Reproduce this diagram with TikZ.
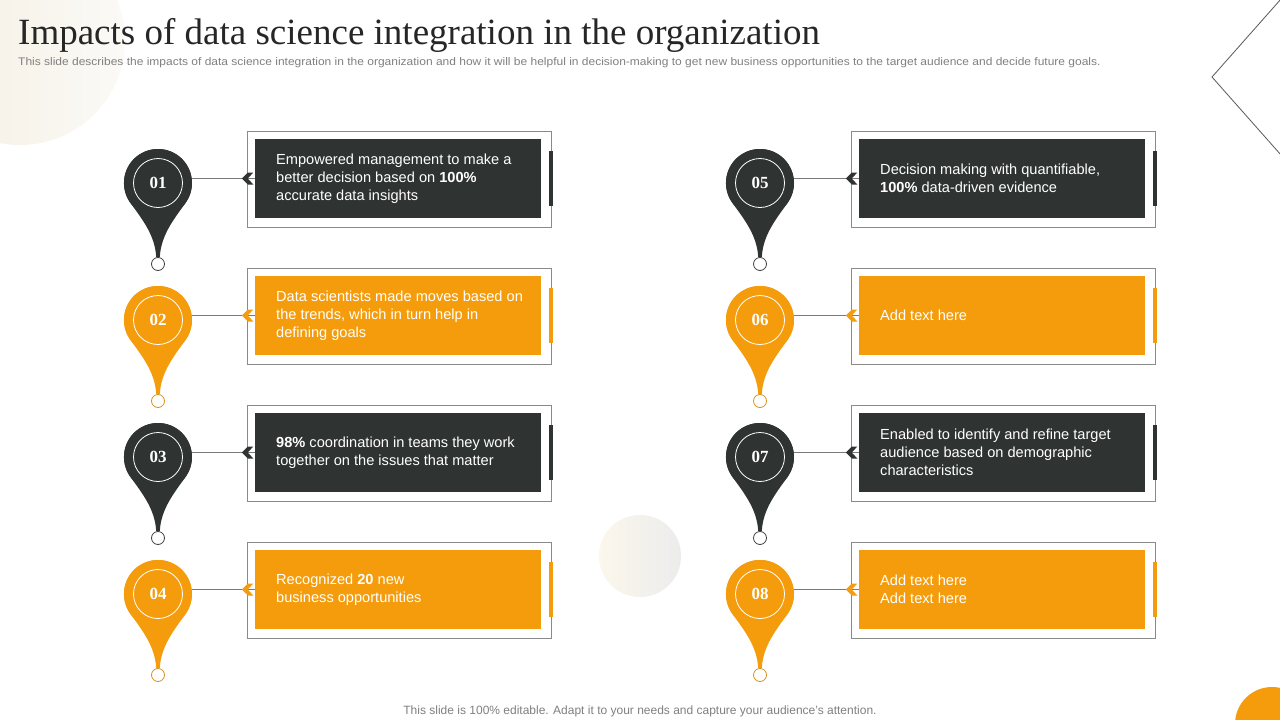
\documentclass[tikz,border=0pt]{standalone}
\usepackage{fontspec}
\setmainfont{Liberation Sans}
\newfontfamily\titlefont{Liberation Serif}
\newfontfamily\numfont{Liberation Serif}
\newfontfamily\subfont[FakeStretch=1.09]{Liberation Sans}
\definecolor{dk}{HTML}{2F3331}
\definecolor{og}{HTML}{F49C0B}
\definecolor{ogline}{HTML}{D9921E}
\definecolor{frame}{HTML}{8A8A8A}
\definecolor{conn}{HTML}{7A7A7A}
\definecolor{subgray}{HTML}{808080}
\definecolor{creamA}{HTML}{F4EEE1}
\definecolor{creamB}{HTML}{FBFAF6}
\definecolor{creamC}{HTML}{FBF7EC}
\definecolor{greyC}{HTML}{ECECEC}
\tikzset{
  pinhead/.style={circle, minimum size=68pt, inner sep=0pt},
  pinnum/.style={circle, draw=white, line width=0.8pt, minimum size=49pt, inner sep=0pt, text=white,
    font=\numfont\bfseries\fontsize{17}{17}\selectfont},
  pinfoot/.style={circle, fill=white, line width=0.8pt, minimum size=13pt, inner sep=0pt},
  boxfill/.style={minimum width=286pt, minimum height=79.5pt, inner sep=0pt},
  boxtext/.style={anchor=west, align=left, text=white, inner sep=0pt,
    font=\fontsize{14.6}{18}\selectfont},
  connector/.style={draw=conn, line width=0.9pt},
  framebox/.style={draw=frame, line width=0.9pt},
}
\newcommand\pinitem[7]{%
  % #1 id, #2 x of pin, #3 y of box centre, #4 colour, #5 foot outline colour, #6 box x offset, #7 text
  \begin{scope}[shift={(#2,#3)}]
    \begin{scope}[xshift=#6]
      \draw[framebox] (89,-47.5) rectangle (393,48.5);
    \end{scope}
    \node[pinhead, fill=#4] (p#1) at (0,4.5) {};
    \fill[#4] (27.9,24) .. controls (16,40.5) and (3,56.5) .. (1.8,78.5)
      -- (-1.8,78.5) .. controls (-3,56.5) and (-16,40.5) .. (-27.9,24)
      arc[start angle=145, end angle=395, radius=34] -- cycle;
    \node[pinnum] (n#1) at (0,4.5) {#1};
    \node[pinfoot, draw=#5] (f#1) at (0,85.5) {};
    \begin{scope}[xshift=#6]
      \node[boxfill, fill=#4] (b#1) at (240,0) {};
      \fill[#4] (391,-27.5) rectangle (395,27.5);
      \node[boxtext] (t#1) at (118,0) {#7};
    \end{scope}
    \draw[connector] (p#1.east |- b#1.west) -- (b#1.west);
    \fill[#4] ([xshift=-13]b#1.west) -- ++(6,-6) -- ++(5.5,0) -- ++(-5.5,6) -- ++(5.5,6) -- ++(-5.5,0) -- cycle;
  \end{scope}
}
\begin{document}
\begin{tikzpicture}[x=1pt,y=-1pt]
\useasboundingbox (0,0) rectangle (1280,720);
\fill[white] (0,0) rectangle (1280,720);
% background decorations
\shade[left color=creamA, right color=creamB] (20,40) circle (105);
\shade[left color=creamC, right color=greyC] (640,556) circle (41);
\fill[og] (1272,724) circle (37);
\draw[black!65, line width=0.8pt] (1281,-1) -- (1212,77) -- (1281,155);
% title
\node[anchor=base west, inner sep=0pt, text=black!85, font=\titlefont\fontsize{37}{37}\selectfont] (title) at (18,44)
  {Impacts of data science integration in the organization};
\node[anchor=base west, inner sep=0pt, text=subgray, font=\subfont\fontsize{11}{11}\selectfont] (sub) at (18,65)
  {This slide describes the impacts of data science integration in the organization and how it will be helpful in decision-making to get new business opportunities to the target audience and decide future goals.};
% items
\pinitem{01}{158}{178.5}{dk}{black!75}{0}{Empowered management to make a\\better decision based on \textbf{100\%}\\accurate data insights}
\pinitem{02}{158}{315.5}{og}{ogline}{0}{Data scientists made moves based on\\the trends, which in turn help in\\defining goals}
\pinitem{03}{158}{452.5}{dk}{black!75}{0}{\textbf{98\%} coordination in teams they work\\together on the issues that matter}
\pinitem{04}{158}{589.5}{og}{ogline}{0}{Recognized \textbf{20} new\\business opportunities}
\pinitem{05}{760}{178.5}{dk}{black!75}{2}{Decision making with quantifiable,\\\textbf{100\%} data-driven evidence}
\pinitem{06}{760}{315.5}{og}{ogline}{2}{Add text here}
\pinitem{07}{760}{452.5}{dk}{black!75}{2}{Enabled to identify and refine target\\audience based on demographic\\characteristics}
\pinitem{08}{760}{589.5}{og}{ogline}{2}{Add text here\\Add text here}
% footer
\node[anchor=base, inner sep=0pt, text=subgray, font=\fontsize{12}{12}\selectfont] (foot) at (640,714)
  {This slide is 100\% editable. Adapt it to your needs and capture your audience's attention.};
\end{tikzpicture}
\end{document}
